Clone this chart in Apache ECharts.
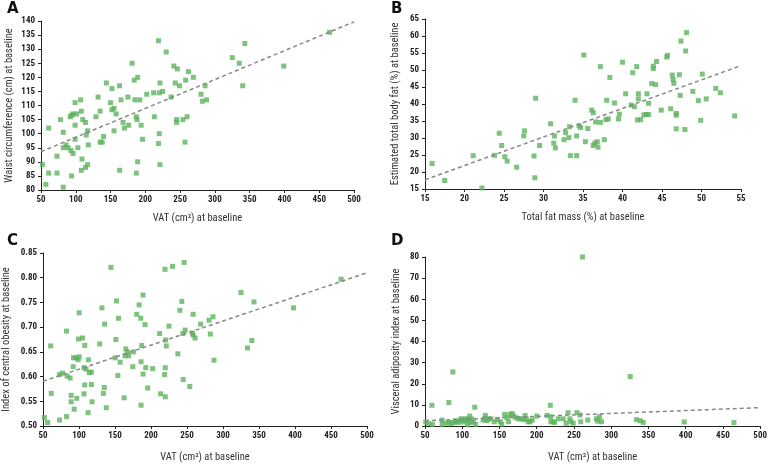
<!DOCTYPE html>
<html>
<head>
<meta charset="utf-8">
<script src="https://cdn.jsdelivr.net/npm/echarts@6/dist/echarts.min.js"></script>
<style>
  html, body { margin: 0; padding: 0; background: #fff; }
  #chart { width: 770px; height: 464px; }
</style>
</head>
<body>
<div id="chart"></div>
<script>
// panel A: VAT vs waist circumference
var vatA = [52, 57, 61, 61, 73, 73, 78, 82, 82, 82, 86, 89, 93, 96, 92, 94, 96, 101, 99, 99, 99, 103,
    107, 108, 110, 114, 117, 115, 118, 109, 108, 114, 117, 94, 129, 132, 135, 140, 135, 138, 144, 150,
    152, 152, 155, 158, 155, 163, 165, 168, 170, 176, 175, 163, 181, 184, 185, 187, 188, 189, 192, 194,
    196, 189, 187, 202, 212, 213, 219, 220, 221, 225, 220, 219, 221, 230, 237, 241, 243, 246, 249, 245,
    245, 254, 260, 257, 258, 262, 269, 280, 282, 288, 286, 325, 335, 340, 343, 399, 465];
var waistA = [89, 82, 86, 102, 86, 92, 105, 81, 100.5, 95, 96, 95, 94, 93, 106, 106.5, 107, 107, 111, 103, 98, 95,
    112, 108, 105, 104, 101, 99.5, 96, 91, 87, 88, 89, 85, 106, 113, 108, 99, 97, 97, 118, 111,
    116, 108.5, 109, 107, 101, 117, 112, 104, 102, 103, 113, 87, 125, 119, 112, 106, 105, 120, 112, 103,
    98, 90, 86, 114, 114.5, 106, 133, 114.5, 118, 115, 100, 96.5, 89, 129, 113, 124, 118, 123, 117, 105,
    104, 105, 106, 97, 119, 122, 120, 114, 111.5, 112, 117, 127, 125, 117, 132, 124, 136];
var trendA = [[50, 93.6], [500, 139.7]];

// panel B: total fat mass vs estimated body fat
var fatMassB = [15.9, 17.5, 21.1, 22.2, 23.8, 24.4, 24.7, 25.1, 25.4, 26.6, 27.6, 27.5, 28.8, 28.9, 29, 29.5,
    30.9, 31.3, 31.4, 31.5, 32.6, 32.8, 33.2, 33.3, 33.4, 34, 34.2, 34.2, 34.5, 34.7, 35.1, 35.3, 35.6,
    36.1, 36.3, 36.3, 36.5, 36.6, 36.8, 36.9, 37.2, 37.2, 37.7, 37.9, 38, 38.2, 38.4, 39, 39.5, 39.6, 40,
    40.4, 41.1, 41.3, 41.5, 41.8, 41.9, 42, 42, 42.3, 42.7, 43.1, 43, 43.3, 43.3, 43.7, 43.9, 43.9, 44.2,
    44.3, 44.9, 45.6, 45.7, 46.1, 46.3, 46.4, 46.5, 46.8, 46.8, 46.8, 47.2, 47.4, 47.3, 47.9, 48.1, 48,
    48.9, 49.6, 49.9, 50.1, 50.6, 51.8, 52.4, 54.2];
var bodyFatB = [22.5, 17.5, 24.8, 15.3, 24.9, 31.4, 27.8, 24.5, 23.2, 21.4, 32.1, 30.6, 24.7, 18.3, 41.7, 27.8,
    34.2, 28.5, 30.6, 27.1, 29.5, 31.6, 30.1, 33.3, 24.8, 41.1, 30.6, 24.8, 33.6, 33.1, 54.4, 28.9, 32.8,
    38.2, 37.4, 27.8, 28.5, 34.7, 28.9, 27.3, 34.6, 51, 29.5, 35.4, 41.1, 35.6, 47.8, 40.3, 35.6, 37, 52.3,
    43, 39.7, 49.2, 39.2, 51, 35.3, 43, 41.5, 35.4, 36.8, 43, 36.9, 36.9, 40.2, 46, 50.4, 51.1, 45.7,
    52.5, 38.2, 53.8, 54.3, 38.6, 48.5, 47.2, 46.1, 37.2, 36.7, 32.7, 48.6, 58.5, 42.5, 32.5, 61, 55.6,
    43.7, 41, 35.2, 48.8, 41.5, 44.6, 43.3, 36.5];
var trendB = [[15, 17.7], [55, 51.3]];

// panel C: VAT vs index of central obesity
var vatC = [51.8, 56.4, 60.6, 61.5, 73, 73, 77.2, 82.7, 82.7, 83.6, 87.7, 89.1, 89.1, 91.9, 93.3, 92.3, 96,
    96.9, 98.8, 99.2, 100.2, 100.2, 104.8, 107, 108, 108, 107, 109.8, 112.6, 113, 114.4, 117.2, 117.2, 118.1,
    128.7, 131.9, 133.8, 135.1, 135.6, 137.9, 144.3, 150.3, 151.2, 152.1, 154, 154.9, 157.2, 162.7, 164.1,
    165, 167.3, 168.7, 175.6, 174.7, 180.2, 183.5, 185.8, 186.2, 187.1, 186.2, 189, 189, 191.7, 192.7, 195.4,
    202.3, 212, 213.4, 219.4, 218.9, 219.8, 220.3, 219.8, 221.2, 224.9, 229.9, 237.3, 240.1, 242.8, 244.2,
    244.7, 246, 247.4, 253.9, 257.5, 258.5, 258.5, 261.2, 269, 280.6, 282.4, 286.1, 287.5, 325, 334, 340,
    343, 398, 464];
var icoC = [0.517, 0.507, 0.662, 0.566, 0.512, 0.604, 0.607, 0.692, 0.519, 0.601, 0.597, 0.562, 0.549, 0.620, 0.534,
    0.638, 0.638, 0.556, 0.634, 0.676, 0.640, 0.729, 0.678, 0.618, 0.663, 0.583, 0.565, 0.615, 0.527, 0.634, 0.608,
    0.609, 0.584, 0.549, 0.666, 0.739, 0.566, 0.578, 0.706, 0.537, 0.821, 0.638, 0.675, 0.753, 0.602, 0.718, 0.629,
    0.557, 0.642, 0.656, 0.650, 0.642, 0.650, 0.620, 0.726, 0.745, 0.718, 0.630, 0.663, 0.542, 0.605, 0.765, 0.705,
    0.618, 0.577, 0.616, 0.687, 0.565, 0.817, 0.604, 0.618, 0.674, 0.559, 0.662, 0.702, 0.823, 0.646, 0.734, 0.752,
    0.687, 0.594, 0.831, 0.694, 0.580, 0.688, 0.726, 0.684, 0.678, 0.706, 0.714, 0.686, 0.721, 0.633, 0.770, 0.658,
    0.673, 0.751, 0.739, 0.797];
var trendC = [[50, 0.5905], [500, 0.81]];

// panel D: VAT vs visceral adiposity index
var vatD = [261.4, 87.4, 325.5, 59.3, 82, 116.8, 218.2, 51, 55, 60, 73, 73, 78, 82, 85, 88, 90.5, 93, 94.5,
    97.6, 98.5, 101, 104, 105, 107, 108, 110, 111, 113, 115, 118, 128, 130.5, 131, 133, 135.5, 138.6, 143,
    147.5, 151, 153, 157, 160, 162, 164, 167, 169, 172, 176, 179, 182.6, 184.4, 186, 188.4, 191, 194, 200,
    214, 218.7, 219, 222, 224, 229, 235.6, 239.6, 242, 244.5, 246, 249, 254, 258, 259, 268.5, 280, 282,
    284.5, 287, 334, 339, 343, 398, 464.8];
var vaiD = [80, 25.6, 23.4, 9.8, 11.1, 8.9, 9.8, 1.9, 1.1, 0.8, 2.8, 0.8, 1.3, 1.7, 1.1, 1.6, 2.5, 2, 1.7,
    2.7, 3.4, 1.9, 3.4, 2.7, 0.8, 3.3, 4.7, 1.7, 3.3, 2, 0.8, 2.8, 3.6, 5, 2.5, 3.4, 3.4, 2,
    3.1, 2, 0.9, 5.5, 3.9, 2, 5.5, 5.9, 4.7, 3.9, 3.4, 3.4, 3.1, 5, 3.4, 2, 2, 2.8, 4.7,
    5, 4.4, 2, 2, 1.7, 3.4, 3.4, 1.3, 6.3, 3.4, 2, 1.3, 6.3, 5.2, 2, 2.8, 3.4, 2.3,
    4.4, 2, 3, 2.5, 1.7, 1.9, 1.6];
var trendD = [[50, 2.5], [500, 8.7]];

function zip(xs, ys) {
    return xs.map(function (x, i) { return [x, ys[i]]; });
}

var green = '#5cb35c';
var axisFont = "'Roboto Condensed', 'DejaVu Sans Condensed', sans-serif";

function xAx(idx, min, max, step, name, gap) {
    return {
        type: 'value', gridIndex: idx, min: min, max: max, interval: step,
        name: name, nameLocation: 'middle', nameGap: gap,
        nameTextStyle: {fontSize: 10.5, color: '#333', fontFamily: axisFont},
        splitLine: {show: false},
        axisLine: {onZero: false, lineStyle: {color: '#222', width: 1}},
        axisTick: {length: 3, lineStyle: {color: '#222'}},
        axisLabel: {fontSize: 9, color: '#222', fontWeight: 'bold', fontFamily: axisFont, margin: 5}
    };
}
function yAx(idx, min, max, step, name, gap, dec) {
    return {
        type: 'value', gridIndex: idx, min: min, max: max, interval: step,
        name: name, nameLocation: 'middle', nameGap: gap,
        nameTextStyle: {fontSize: 10.5, color: '#333', fontFamily: axisFont},
        splitLine: {show: false},
        axisLine: {onZero: false, lineStyle: {color: '#222', width: 1}},
        axisTick: {length: 3, lineStyle: {color: '#222'}},
        axisLabel: {fontSize: 9, color: '#222', fontWeight: 'bold', fontFamily: axisFont, margin: 6,
            formatter: function (v) { return dec ? v.toFixed(dec) : v; }}
    };
}
function dots(idx, data) {
    return {type: 'scatter', xAxisIndex: idx, yAxisIndex: idx, data: data,
        symbol: 'rect', symbolSize: 5, itemStyle: {color: green}, silent: true};
}
function trend(idx, data) {
    return {type: 'line', xAxisIndex: idx, yAxisIndex: idx, data: data, symbol: 'none', silent: true,
        lineStyle: {color: '#888', width: 1.5, type: [4, 3]}};
}

var myChart = echarts.init(document.getElementById('chart'));
myChart.setOption({
    animation: false,
    title: [
        {text: 'A', left: 2, top: -3},
        {text: 'B', left: 386, top: -3},
        {text: 'C', left: 2, top: 229},
        {text: 'D', left: 386, top: 229}
    ].map(function (t) {
        t.textStyle = {fontSize: 15, fontWeight: 'bold', color: '#111', fontFamily: 'DejaVu Sans'};
        return t;
    }),
    grid: [
        {left: 41, top: 21, width: 313, height: 169},
        {left: 425, top: 19, width: 316, height: 170},
        {left: 41, top: 253, width: 326, height: 175},
        {left: 425, top: 257, width: 337, height: 171}
    ],
    xAxis: [
        xAx(0, 50, 500, 50, 'VAT (cm²) at baseline', 23),
        xAx(1, 15, 55, 5, 'Total fat mass (%) at baseline', 23),
        xAx(2, 50, 500, 50, 'VAT (cm²) at baseline', 26),
        xAx(3, 50, 500, 50, 'VAT (cm²) at baseline', 26)
    ],
    yAxis: [
        yAx(0, 80, 140, 5, 'Waist circumference (cm) at baseline', 26, 0),
        yAx(1, 15, 65, 5, 'Estimated total body fat (%) at baseline', 24, 0),
        yAx(2, 0.5, 0.85, 0.05, 'Index of central obesity at baseline', 31, 2),
        yAx(3, 0, 80, 10, 'Visceral adiposity index at baseline', 23, 0)
    ],
    series: [
        dots(0, zip(vatA, waistA)), trend(0, trendA),
        dots(1, zip(fatMassB, bodyFatB)), trend(1, trendB),
        dots(2, zip(vatC, icoC)), trend(2, trendC),
        dots(3, zip(vatD, vaiD)), trend(3, trendD)
    ]
});
</script>
</body>
</html>
